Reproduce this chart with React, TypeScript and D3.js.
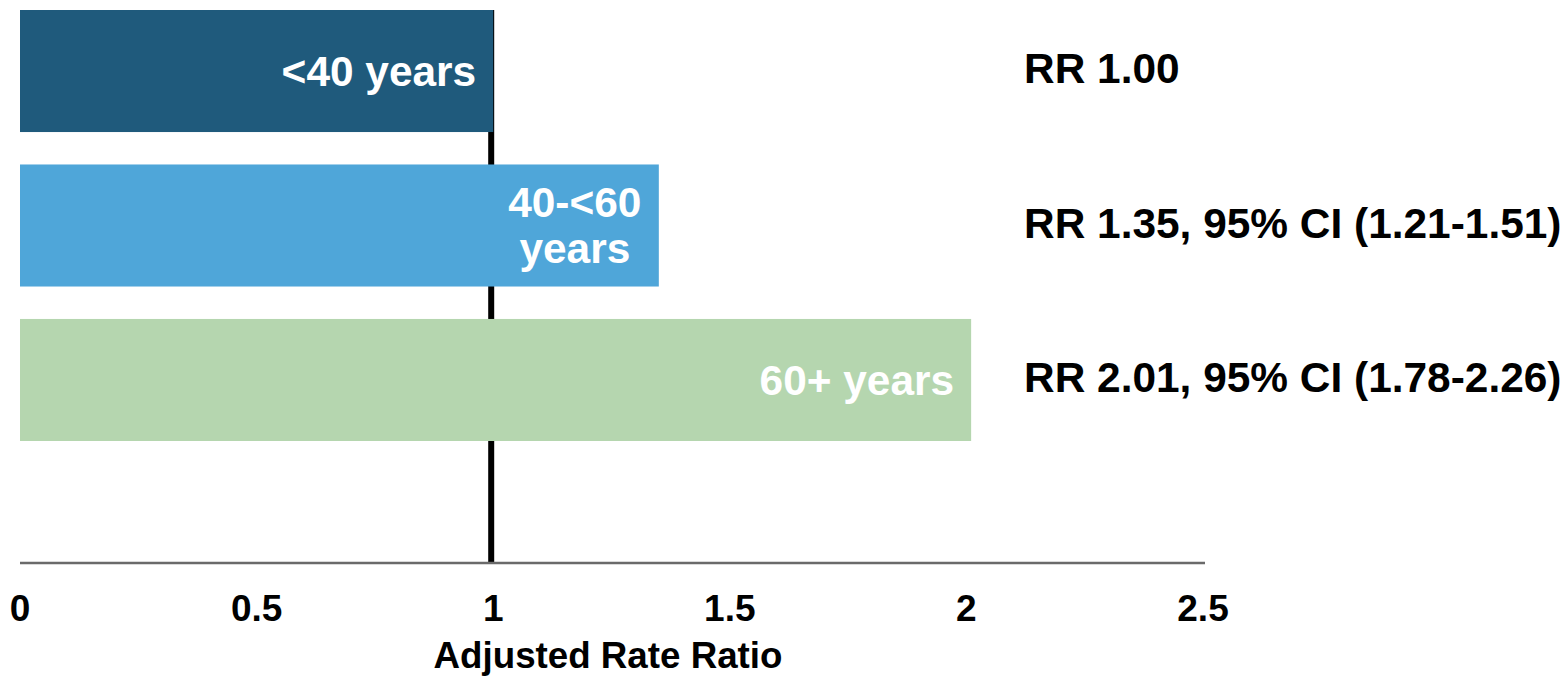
import React from "react";
import * as d3 from "d3";

const categories = ["<40 years", "40-<60 years", "60+ years"];
const labelLines = [["<40 years"], ["40-<60", "years"], ["60+ years"]];
const values = [1.0, 1.35, 2.01];
const rrLabels = [
  "RR 1.00",
  "RR 1.35, 95% CI (1.21-1.51)",
  "RR 2.01, 95% CI (1.78-2.26)",
];
const colors = ["#1F5A7C", "#4FA6D9", "#B5D6AF"];
const tickValues = [0, 0.5, 1, 1.5, 2, 2.5];
const tickLabels = ["0", "0.5", "1", "1.5", "2", "2.5"];
const referenceValue = 1;
const axisTitle = "Adjusted Rate Ratio";

const W = 1568;
const H = 677;
const FONT = "'Liberation Sans', Arial, Helvetica, sans-serif";
const SX = 1.01;
const FS = 42;

export default function App() {
  const x = d3.scaleLinear().domain([0, 2.5]).range([20, 1203]);
  const y = d3
    .scaleBand<string>()
    .domain(categories)
    .range([10, 441])
    .paddingInner(0.21)
    .paddingOuter(0);
  const axisY = 563;
  const bw = y.bandwidth();

  return (
    <svg
      width={W}
      height={H}
      style={{ position: "absolute", left: 0, top: 0, background: "#fff" }}
      fontFamily={FONT}
      fontWeight="bold"
    >
      {/* reference line at RR = 1 (behind bars) */}
      <line
        x1={x(referenceValue) - 2}
        x2={x(referenceValue) - 2}
        y1={y(categories[0])!}
        y2={axisY}
        stroke="#000"
        strokeWidth={6}
      />
      {/* bars */}
      {categories.map((c, i) => (
        <rect
          key={c}
          x={x(0)}
          y={y(c)!}
          width={x(values[i]) - x(0)}
          height={bw}
          fill={colors[i]}
        />
      ))}
      {/* bar labels */}
      {categories.map((c, i) => {
        const cy = y(c)! + bw / 2;
        const lines = labelLines[i];
        if (lines.length === 1) {
          return (
            <text
              key={c}
              transform={`translate(${x(values[i]) - 17},${cy + 15}) scale(${SX},1)`}
              textAnchor="end"
              fontSize={FS}
              fill="#fff"
            >
              {lines[0]}
            </text>
          );
        }
        return (
          <g key={c}>
            {lines.map((ln, j) => (
              <text
                key={ln}
                transform={`translate(${x(values[i]) - 84},${cy - 9 + j * 46}) scale(${SX},1)`}
                textAnchor="middle"
                fontSize={FS}
                fill="#fff"
              >
                {ln}
              </text>
            ))}
          </g>
        );
      })}
      {/* RR labels */}
      {categories.map((c, i) => (
        <text
          key={"rr" + c}
          transform={`translate(1024,${y(c)! + bw / 2 + 12}) scale(${SX},1)`}
          fontSize={FS}
          fill="#000"
        >
          {rrLabels[i]}
        </text>
      ))}
      {/* x axis line */}
      <line
        x1={x(0)}
        x2={x(2.5) + 2}
        y1={axisY}
        y2={axisY}
        stroke="#6a6a6a"
        strokeWidth={2.5}
      />
      {/* tick labels */}
      {tickValues.map((v, i) => (
        <text
          key={v}
          x={x(v)}
          y={621}
          textAnchor="middle"
          fontSize={37}
          fill="#000"
        >
          {tickLabels[i]}
        </text>
      ))}
      <text
        transform={`translate(608,668) scale(1.02,1)`}
        textAnchor="middle"
        fontSize={36}
        fill="#000"
      >
        {axisTitle}
      </text>
    </svg>
  );
}
